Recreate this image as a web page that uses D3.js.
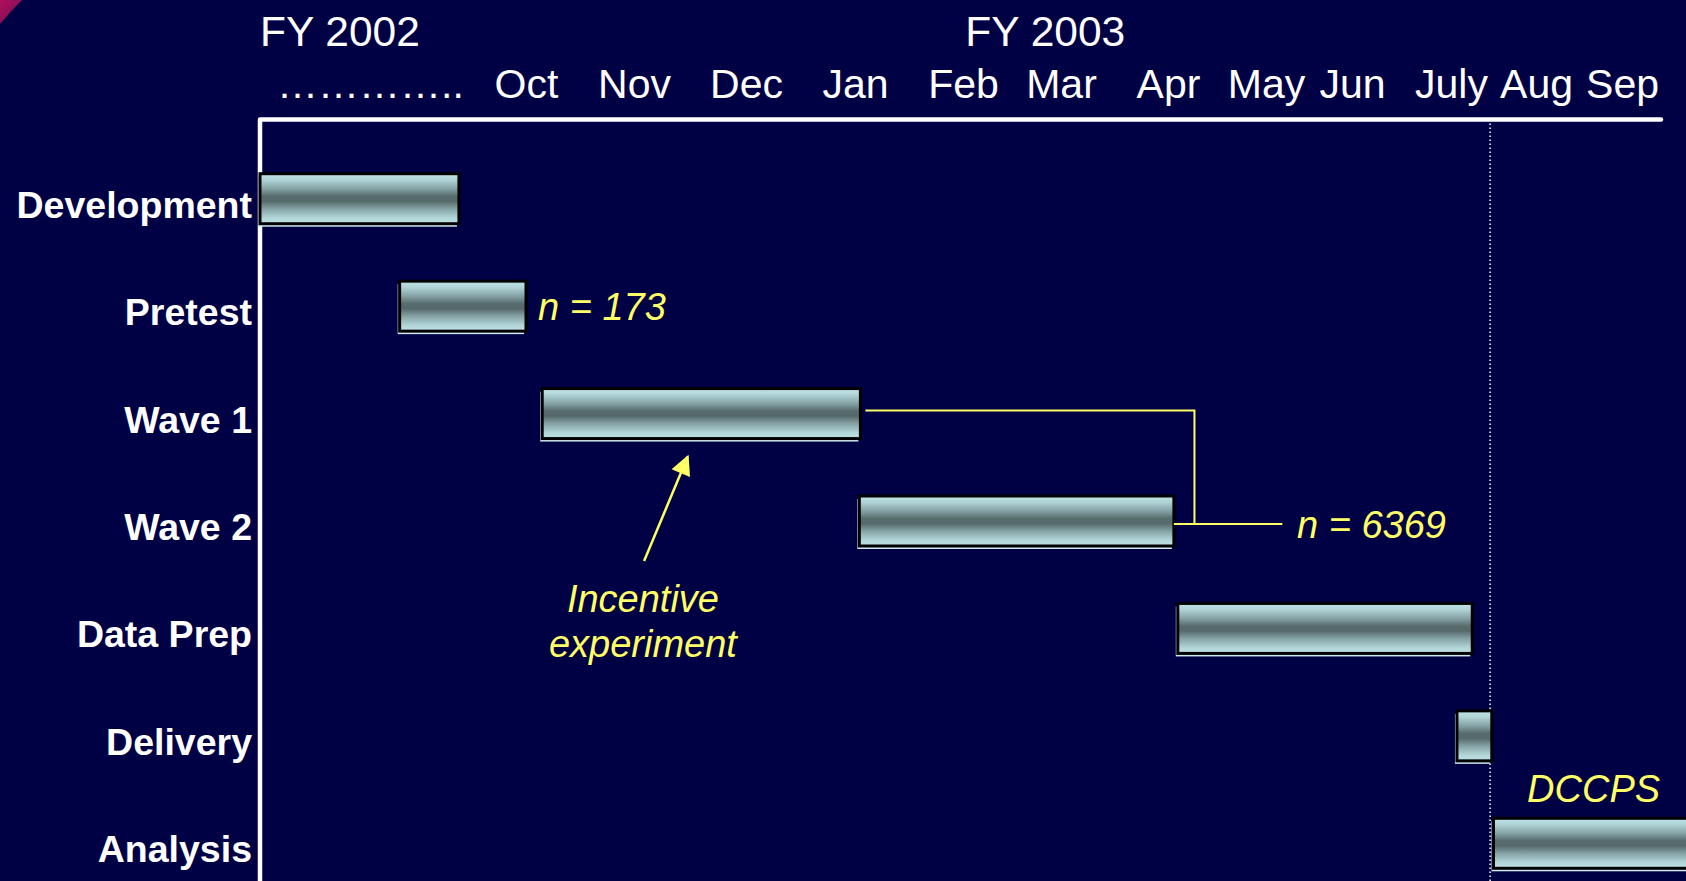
<!DOCTYPE html>
<html>
<head>
<meta charset="utf-8">
<script src="https://cdn.jsdelivr.net/npm/d3@7"></script>
<style>
  body { margin: 0; background: #000045; overflow: hidden; }
  svg { display: block; font-family: "Liberation Sans", Arial, sans-serif; }
</style>
</head>
<body>
<div id="chart"></div>
<script>
// rows of the schedule
const tasks = ["Development", "Pretest", "Wave 1", "Wave 2", "Data Prep", "Delivery", "Analysis"];
// month slots: 0 = the dotted stretch before October, 1 = Oct ... 12 = Sep
const monthLabels = ["…………..", "Oct", "Nov", "Dec", "Jan", "Feb", "Mar", "Apr", "May", "Jun", "July", "Aug", "Sep"];
// start / end of each task, in month slots
const taskStart = [-0.7, 0.19, 1.15, 4.04, 7.1, 10.07, 10.5];
const taskEnd = [0.57, 1.0, 4.05, 7.06, 10.25, 10.48, 13];
const fyLabels = ["FY 2002", "FY 2003"];
const fyAt = [-0.7, 5.84];
const deliveryDate = 10.46;

const width = 1686;
const height = 881;
const axisY = 119.5;
const navy = "#000045";
const yellow = "#ffff66";
const font = "Liberation Sans, Arial, sans-serif";

// hand placed month columns of the original slide
const monthX = [370, 526, 634, 746, 855, 963, 1061, 1168, 1266, 1352, 1451, 1536, 1622];

const svg = d3
  .select("#chart")
  .append("svg")
  .attr("width", width)
  .attr("height", height);

svg.append("rect").attr("width", width).attr("height", height).attr("fill", navy);

const defs = svg.append("defs");
const corner = defs
  .append("linearGradient")
  .attr("id", "corner")
  .attr("x1", 0).attr("y1", 0).attr("x2", 1).attr("y2", 1);
corner.append("stop").attr("offset", 0).attr("stop-color", "#b0105e");
corner.append("stop").attr("offset", 0.6).attr("stop-color", "#8a0f55");
corner.append("stop").attr("offset", 1).attr("stop-color", navy);

const barGrad = defs
  .append("linearGradient")
  .attr("id", "barGrad")
  .attr("x1", 0).attr("y1", 0).attr("x2", 0).attr("y2", 1);
[
  [0, "#c0e3e6"],
  [0.12, "#b0d4d7"],
  [0.3, "#84a2a4"],
  [0.45, "#586c6e"],
  [0.55, "#56696b"],
  [0.7, "#84a2a4"],
  [0.88, "#b0d4d7"],
  [1, "#c0e3e6"]
].forEach(s => barGrad.append("stop").attr("offset", s[0]).attr("stop-color", s[1]));

const arrowHead = defs
  .append("marker")
  .attr("id", "arrowHead")
  .attr("viewBox", "0 0 10 10")
  .attr("refX", 9)
  .attr("refY", 5)
  .attr("markerUnits", "userSpaceOnUse")
  .attr("markerWidth", 22)
  .attr("markerHeight", 20)
  .attr("orient", "auto");
arrowHead.append("path").attr("d", "M0,0 L10,5 L0,10 Z").attr("fill", yellow);

// little magenta swoosh in the top-left corner
svg
  .append("path")
  .attr("d", "M0,0 L22,0 Q10,12 0,24 Z")
  .attr("fill", "url(#corner)");

const x = d3
  .scaleLinear()
  .domain([-0.7, ...d3.range(monthLabels.length), 12.45])
  .range([260, ...monthX, 1661]);

const y = d3
  .scaleBand()
  .domain(tasks)
  .range([152, 904]);

const barH = 50;
const barMid = t => y(t) + y.bandwidth() / 2 - 7;

// fiscal year headings
svg
  .append("g")
  .selectAll("text")
  .data(fyLabels)
  .enter()
  .append("text")
  .attr("x", (d, i) => x(fyAt[i]))
  .attr("y", 46)
  .attr("text-anchor", (d, i) => (i === 0 ? "start" : "middle"))
  .attr("fill", "#fff")
  .attr("font-size", 42.5)
  .text(d => d);

// month axis along the top
const xAxis = d3
  .axisTop(x)
  .tickValues(d3.range(monthLabels.length))
  .tickFormat(i => monthLabels[i])
  .tickSize(0)
  .tickPadding(22);

svg
  .append("g")
  .attr("transform", `translate(0, ${axisY})`)
  .call(xAxis)
  .attr("font-size", 41)
  .attr("font-family", font)
  .style("color", "#fff")
  .call(g => g.select(".domain").remove());

// task labels
const yAxis = d3.axisLeft(y).tickSize(0).tickPadding(8);
svg
  .append("g")
  .attr("transform", `translate(${x(-0.7)}, 0)`)
  .call(yAxis)
  .attr("font-size", 37.5)
  .attr("font-weight", "bold")
  .attr("font-family", font)
  .style("color", "#fff")
  .call(g => g.select(".domain").remove());

// frame: left axis + top rule
svg
  .append("path")
  .attr("d", `M${x(-0.7)},${height + 5} V${axisY} H${x(12.45)}`)
  .attr("fill", "none")
  .attr("stroke", "#fff")
  .attr("stroke-width", 4.5)
  .attr("stroke-linejoin", "round")
  .attr("stroke-linecap", "round");

// delivery date marker
svg
  .append("line")
  .attr("x1", x(deliveryDate))
  .attr("x2", x(deliveryDate))
  .attr("y1", axisY + 4)
  .attr("y2", height)
  .attr("stroke", "#fff")
  .attr("stroke-width", 1.5)
  .attr("stroke-dasharray", "1.5,2.5");

// bars
const bars = svg
  .append("g")
  .selectAll("g")
  .data(tasks)
  .enter()
  .append("g");

bars
  .append("rect")
  .attr("x", (d, i) => x(taskStart[i]) - 2)
  .attr("y", d => barMid(d) - barH / 2 + 3)
  .attr("width", (d, i) => x(taskEnd[i]) - x(taskStart[i]))
  .attr("height", barH)
  .attr("fill", "#cfe9ec");

bars
  .append("rect")
  .attr("x", (d, i) => x(taskStart[i]))
  .attr("y", d => barMid(d) - barH / 2)
  .attr("width", (d, i) => x(taskEnd[i]) - x(taskStart[i]))
  .attr("height", barH)
  .attr("fill", "url(#barGrad)")
  .attr("stroke", "#000")
  .attr("stroke-width", 3);

// annotations
const notes = svg
  .append("g")
  .attr("fill", yellow)
  .attr("font-size", 38)
  .attr("font-style", "italic");

notes
  .append("text")
  .attr("x", x(taskEnd[1]) + 12)
  .attr("y", barMid("Pretest") + 13.5)
  .text("n = 173");

// bracket joining the two waves
const bracketX = 7.27;
const bracketEnd = 8.19;
svg
  .append("path")
  .attr(
    "d",
    `M${x(taskEnd[2]) + 5},${barMid("Wave 1") - 3} H${x(bracketX)} V${barMid("Wave 2") + 3}` +
      ` M${x(taskEnd[3])},${barMid("Wave 2") + 3} H${x(bracketEnd)}`
  )
  .attr("fill", "none")
  .attr("stroke", yellow)
  .attr("stroke-width", 2);

notes
  .append("text")
  .attr("x", x(8.36))
  .attr("y", barMid("Wave 2") + 17)
  .text("n = 6369");

// incentive experiment arrow
svg
  .append("line")
  .attr("x1", x(2.09))
  .attr("y1", barMid("Wave 2") + 40)
  .attr("x2", x(2.48))
  .attr("y2", barMid("Wave 1") + barH / 2 + 18)
  .attr("stroke", yellow)
  .attr("stroke-width", 2.5)
  .attr("marker-end", "url(#arrowHead)");

notes
  .append("text")
  .attr("x", x(2.08))
  .attr("y", barMid("Data Prep") - 16)
  .attr("text-anchor", "middle")
  .selectAll("tspan")
  .data(["Incentive", "experiment"])
  .enter()
  .append("tspan")
  .attr("x", x(2.08))
  .attr("dy", (d, i) => (i === 0 ? 0 : 45))
  .text(d => d);

notes
  .append("text")
  .attr("x", x(12.44))
  .attr("y", barMid("Analysis") - barH / 2 - 16)
  .attr("text-anchor", "end")
  .text("DCCPS");
</script>
</body>
</html>
